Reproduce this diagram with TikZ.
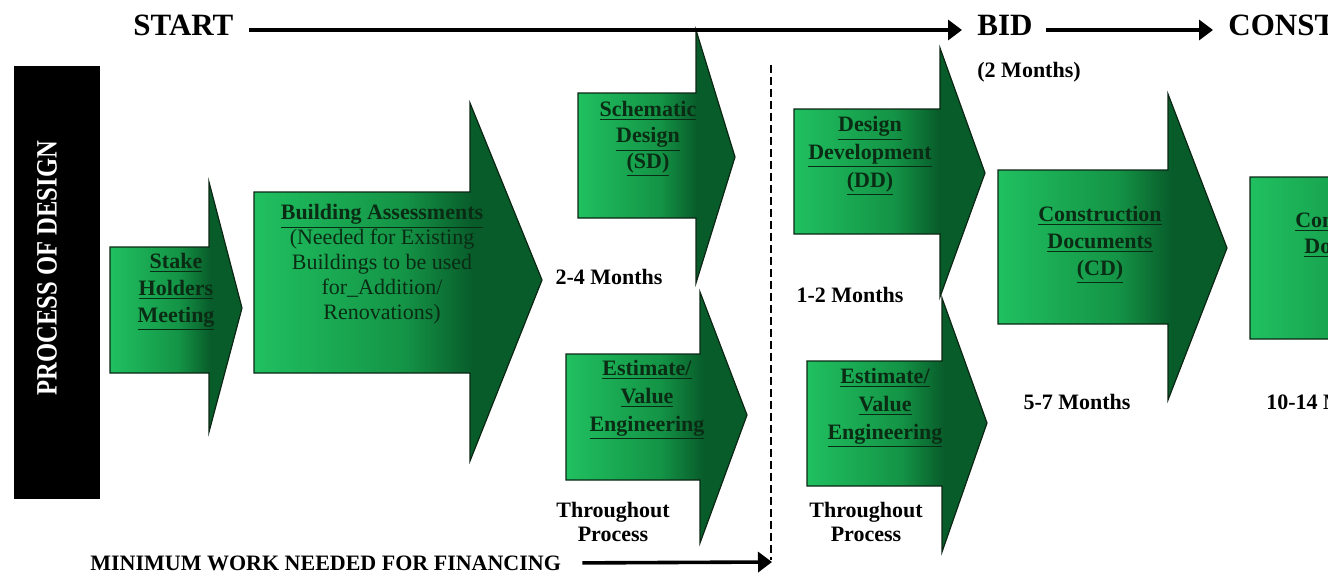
\documentclass[tikz,border=0pt]{standalone}
\usepackage{fontspec}
\usepackage{graphicx}
\setmainfont{Liberation Serif}
\usetikzlibrary{arrows.meta}

% greens of the block arrows
\definecolor{gl}{RGB}{32,192,96}
\definecolor{gm}{RGB}{20,148,70}
\definecolor{gd}{RGB}{8,92,42}
\definecolor{arrowline}{RGB}{12,38,20}
\definecolor{textgreen}{RGB}{10,44,20}

% light at the tail, dark from the end of the shaft on
\pgfdeclarehorizontalshading{arrowshade}{100bp}{color(0bp)=(gl); color(25bp)=(gl); color(51bp)=(gm); color(63bp)=(gd); color(100bp)=(gd)}

\newcommand{\udl}[1]{\underline{#1}}
% block arrow: left x, shaft top, shaft bottom, shaft right x, head top, head bottom, tip x, tip y
\newcommand{\greenblock}[8]{\path[greenarrow] (#1,#2) -- (#4,#2) -- (#4,#5) -- (#7,#8) -- (#4,#6) -- (#4,#3) -- (#1,#3) -- cycle;}

\tikzset{
  greenarrow/.style={shade, shading=arrowshade, draw=arrowline, line width=0.6pt, line join=miter},
  boxtext/.style={font=\fontsize{11}{13.5}\selectfont\bfseries, text=textgreen, align=center, inner sep=0pt},
  plain/.style={font=\fontsize{11}{12}\selectfont\bfseries, text=black, align=center, inner sep=0pt},
  toptext/.style={font=\fontsize{15.5}{18}\selectfont\bfseries, text=black, inner sep=0pt},
  mainline/.style={line width=1.8pt, -{Triangle[length=7pt,width=10pt]}},
  divider/.style={line width=0.9pt, dash pattern=on 4pt off 2pt}
}

\begin{document}
\begin{tikzpicture}[x=0.5pt, y=-0.5pt]
\useasboundingbox (0,0) rectangle (1328,578);
\clip (0,0) rectangle (1328,578);

% title bar
\node[fill=black, minimum width=43pt, minimum height=216.5pt, inner sep=0pt] (podbox) at (57,282.5) {};
\node[rotate=90, text=white, inner sep=0pt, font=\fontsize{12.3}{14}\selectfont\bfseries] (podtext) at (47,268) {\scalebox{1}[1.2]{\bfseries PROCESS OF DESIGN}};

% block arrows
\greenblock{110}{247}{373}{209}{182}{432}{242}{308}
\greenblock{254}{192}{373}{470}{103}{461}{542}{280}
\greenblock{578}{93}{218}{696}{30}{283}{735}{157}
\greenblock{566}{354}{480}{700}{292}{543}{747}{415}
\greenblock{794}{109}{234}{940}{48}{297}{985}{173}
\greenblock{807}{361}{486}{942}{298}{552}{987}{423}
\greenblock{998}{170}{324}{1168}{94}{400}{1227}{248}
\greenblock{1250}{177}{339}{1440}{100}{416}{1500}{258}

% texts in the arrows
\node[boxtext] (stake) at (176,292) {\udl{Stake}\\\udl{Holders}\\\udl{Meeting}};
\node[boxtext, font=\fontsize{11}{12.5}\selectfont\bfseries] (assess) at (382,264)
  {\udl{Building Assessments}\\{\mdseries (Needed for Existing}\\{\mdseries Buildings to be used}\\{\mdseries for\_Addition/}\\{\mdseries Renovations)}};
\node[boxtext, font=\fontsize{11}{13}\selectfont\bfseries] (sd) at (648,139) {\udl{Schematic}\\\udl{Design}\\\udl{(SD)}};
\node[boxtext, font=\fontsize{11}{14}\selectfont\bfseries] (estl) at (647,400) {\udl{Estimate/}\\\udl{Value}\\\udl{Engineering}};
\node[boxtext, font=\fontsize{11}{14}\selectfont\bfseries] (dd) at (870,156) {\udl{Design}\\\udl{Development}\\\udl{(DD)}};
\node[boxtext, font=\fontsize{11}{14}\selectfont\bfseries] (estr) at (885,408) {\udl{Estimate/}\\\udl{Value}\\\udl{Engineering}};
\node[boxtext] (cd) at (1100,245) {\udl{Construction}\\\udl{Documents}\\\udl{(CD)}};
\node[boxtext, font=\fontsize{11}{13}\selectfont\bfseries] (ca) at (1357,235) {\udl{Construction}\\\udl{Documents}};

% durations
\node[plain] (m24) at (609,277) {2-4 Months};
\node[plain] (m12) at (850,295) {1-2 Months};
\node[plain] (m57) at (1077,402) {5-7 Months};
\node[plain, anchor=west] (m1014) at (1266,402) {10-14 Months};
\node[plain] (thrl) at (613,522) {Throughout\\Process};
\node[plain] (thrr) at (866,522) {Throughout\\Process};

% phase line at the top
\node[toptext, anchor=base west] (start) at (133,35) {START};
\node[toptext, anchor=base west] (bid) at (977,35) {BID};
\node[toptext, anchor=base west] (const) at (1228,35) {CONSTRUCTION};
\node[plain, anchor=west] (bidtime) at (977,72) {(2 Months)};
\draw[mainline, shorten <=7.5pt, shorten >=7.5pt] ([yshift=2.5pt]start.base east) -- ([yshift=2.5pt]bid.base west);
\draw[mainline, shorten <=6.5pt, shorten >=7.5pt] ([yshift=2.5pt]bid.base east) -- ([yshift=2.5pt]const.base west);

% financing limit
\coordinate (dtop) at (771,65);
\coordinate (dbot) at (771,560);
\draw[divider] (dtop) -- (dbot);
\node[plain, anchor=west] (minwork) at (90,563) {MINIMUM WORK NEEDED FOR FINANCING};
\coordinate (finend) at (772,562);
\draw[mainline, shorten <=10.5pt] (minwork.east) -- (finend);
\end{tikzpicture}
\end{document}
